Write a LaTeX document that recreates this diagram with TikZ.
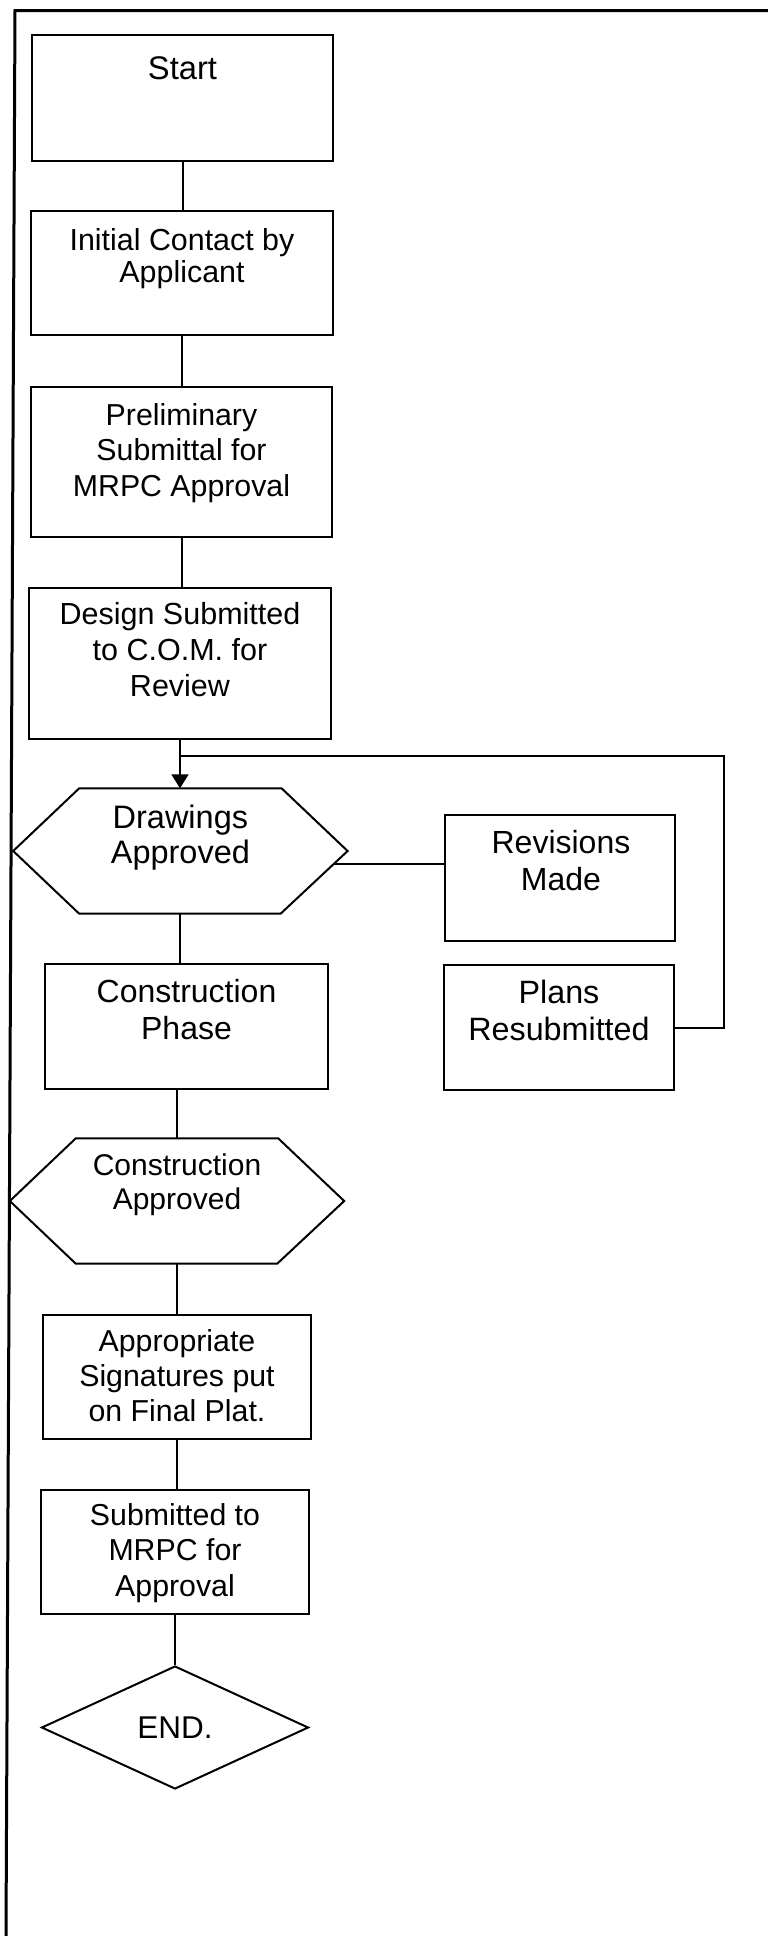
\documentclass[tikz,border=0pt]{standalone}
\usepackage{fontspec}
\setmainfont{Liberation Sans}
\usetikzlibrary{arrows.meta,shapes.geometric}

\newcommand\fs[2]{\fontsize{#1}{#2}\selectfont}

\tikzset{
	box/.style = {rectangle, draw=black, line width=2pt, inner sep=0pt},
	hexa/.style = {rectangle, inner sep=0pt, minimum width=334pt, minimum height=125pt},
	diam/.style = {diamond, draw=black, line width=2pt, inner sep=0pt},
	txt/.style = {align=center, inner sep=0pt, execute at begin node={\rule{0pt}{0.966em}}, execute at end node={\rule[-0.25em]{0pt}{0.25em}}},
	conn/.style = {line width=2pt},
	arr/.style = {-{Triangle[length=14pt,width=17pt]}}
}

\begin{document}
\begin{tikzpicture}[x=1pt, y=-1pt]
	\useasboundingbox (0,0) rectangle (768,1936);
	\draw[line width=3pt] (768,10.5) -- (15,10.5) -- (6,1936);

	\node[box, minimum width=301pt, minimum height=126pt] (start) at (182.5,98) {};
	\node[box, minimum width=302pt, minimum height=124pt] (init) at (182,273) {};
	\node[box, minimum width=301pt, minimum height=150pt] (prel) at (181.5,462) {};
	\node[box, minimum width=302pt, minimum height=151pt] (des) at (180,663.5) {};
	\node[hexa] (dra) at (180.4,851) {};
	\node[box, minimum width=230pt, minimum height=126pt] (rev) at (560,878) {};
	\node[box, minimum width=230pt, minimum height=125pt] (pla) at (559,1027.5) {};
	\node[box, minimum width=283pt, minimum height=125pt] (con) at (186.5,1026.3) {};
	\node[hexa] (cap) at (177,1201) {};
	\node[box, minimum width=268pt, minimum height=124pt] (app) at (177,1377) {};
	\node[box, minimum width=268pt, minimum height=124pt] (sub) at (175,1552) {};
	\node[diam, minimum width=267pt, minimum height=123pt] (end) at (175,1727.5) {};

	\foreach \h in {dra,cap}
		\draw[conn] (\h.west) -- ([xshift=66pt]\h.north west) -- ([xshift=-66pt]\h.north east) -- (\h.east) -- ([xshift=-67pt]\h.south east) -- ([xshift=66pt]\h.south west) -- cycle;

	\node[txt, font=\fs{32.7}{37}] (start-t) at ([yshift=30pt]start.center) {Start};
	\node[txt, font=\fs{30.4}{32}] (init-t) at ([yshift=14pt]init.center) {Initial Contact by\\Applicant};
	\node[txt, font=\fs{30.3}{35.5}] (prel-t) at ([yshift=8.5pt]prel.center) {Preliminary\\Submittal for\\MRPC Approval};
	\node[txt, font=\fs{30.5}{36}] (des-t) at ([yshift=10.5pt]des.center) {Design Submitted\\to C.O.M. for\\Review};
	\node[txt, font=\fs{32.5}{35.5}] (dra-t) at ([yshift=12.6pt]dra.center) {Drawings\\Approved};
	\node[txt, font=\fs{32}{37}] (rev-t) at ([xshift=1pt,yshift=13.3pt]rev.center) {Revisions\\Made};
	\node[txt, font=\fs{32.3}{37}] (pla-t) at ([yshift=13pt]pla.center) {Plans\\Resubmitted};
	\node[txt, font=\fs{32}{37}] (con-t) at ([yshift=12.8pt]con.center) {Construction\\Phase};
	\node[txt, font=\fs{30}{34}] (cap-t) at ([yshift=16pt]cap.center) {Construction\\Approved};
	\node[txt, font=\fs{30.3}{35}] (app-t) at ([yshift=-2pt]app.center) {Appropriate\\Signatures put\\on Final Plat.};
	\node[txt, font=\fs{30.3}{35.5}] (sub-t) at ([yshift=-1.3pt]sub.center) {Submitted to\\MRPC for\\Approval};
	\node[txt, font=\fs{31.5}{36}] (end-t) at (end.center) {END.};

	\coordinate (jn) at (180,755.7);
	\coordinate (dra-r) at (333,864);
	\draw[conn] (start.south) -- (start.south |- init.north);
	\draw[conn] (init.south) -- (init.south |- prel.north);
	\draw[conn] (prel.south) -- (prel.south |- des.north);
	\draw[conn] (des.south) -- (jn);
	\draw[conn, arr] (jn) -- (jn |- dra.north);
	\draw[conn] (pla.east) -- ++(49,0) |- (jn);
	\draw[conn] (dra-r) -- (dra-r -| rev.west);
	\draw[conn] (dra.south) -- (dra.south |- con.north);
	\draw[conn] (cap.north |- con.south) -- (cap.north);
	\draw[conn] (cap.south) -- (cap.south |- app.north);
	\draw[conn] (app.south) -- (app.south |- sub.north);
	\draw[conn] (sub.south) -- (end.north);
\end{tikzpicture}
\end{document}
